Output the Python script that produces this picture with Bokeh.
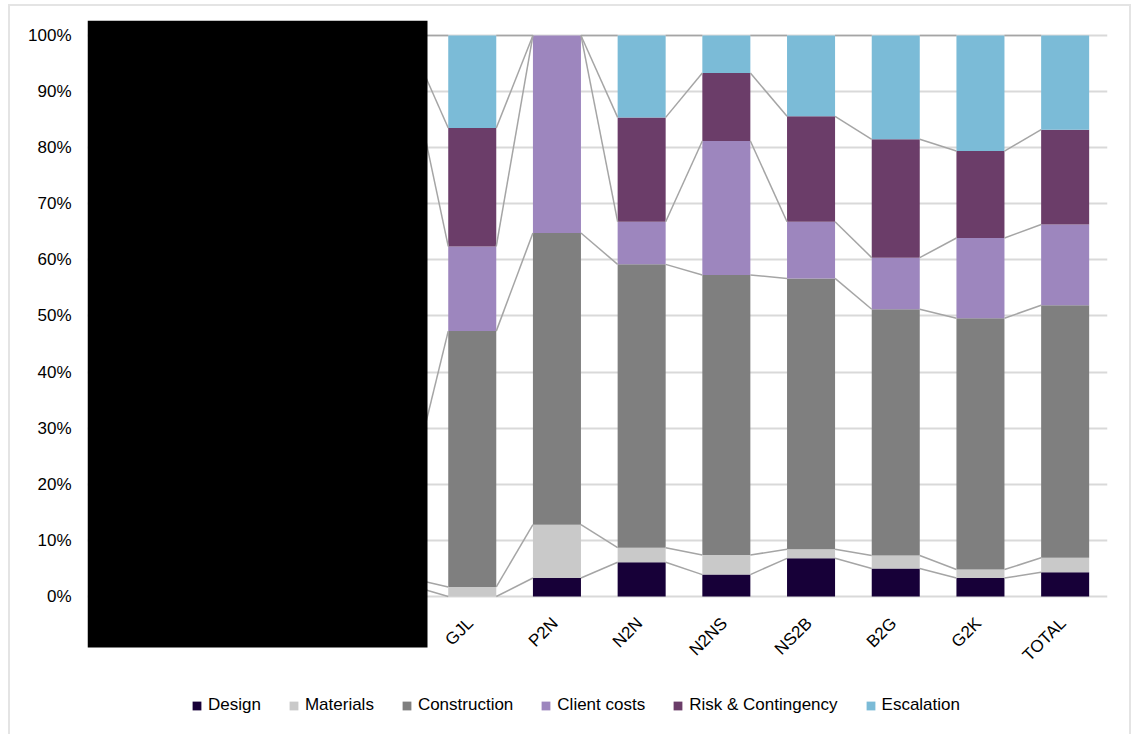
import numpy as np
from bokeh.plotting import figure
from bokeh.core.properties import value
from bokeh.models import (FixedTicker, NumeralTickFormatter, Legend, LegendItem,
                          BoxAnnotation, ColumnDataSource)
from bokeh.embed import file_html
from bokeh.resources import INLINE

# Cost breakdown per section (share of total, %)
series = ["Design", "Materials", "Construction", "Client costs", "Risk & Contingency", "Escalation"]
colors = ["#170038", "#C9C9C9", "#7F7F7F", "#9D86BE", "#6B3D69", "#7BBBD7"]

# The first four columns are blacked out; the fourth one still shows through
# its series lines, so its values are kept as the first entry below.
n_hidden = 4
labels = ["GJL", "P2N", "N2N", "N2NS", "NS2B", "B2G", "G2K", "TOTAL"]

design       = [1.9, 0.0, 3.3, 6.1, 3.9, 6.8, 5.0, 3.3, 4.3]
materials    = [1.3, 1.7, 9.5, 2.6, 3.5, 1.6, 2.3, 1.5, 2.6]
construction = [17.3, 45.6, 52.0, 50.5, 49.9, 48.3, 43.9, 44.8, 45.0]
client_costs = [72.8, 15.1, 35.2, 7.6, 23.9, 10.1, 9.2, 14.3, 14.4]
risk         = [5.0, 21.1, 0.0, 18.6, 12.1, 18.8, 21.1, 15.5, 16.9]
escalation   = [1.7, 16.5, 0.0, 14.6, 6.7, 14.4, 18.5, 20.6, 16.8]

values = [design, materials, construction, client_costs, risk, escalation]
n_cols = n_hidden + len(labels)
xs = list(range(n_hidden - 1, n_cols))
bar_w = 0.567

data = {"x": xs}
for name, vals in zip(series, values):
    data[name] = [v / 100.0 for v in vals]
source = ColumnDataSource(data)

# the frame reaches down to the bottom edge so the blacked-out block, the
# category labels and the legend all live inside it
p = figure(width=1123, height=730, output_backend="svg", toolbar_location=None,
           x_range=(-0.5425, n_cols - 0.5), y_range=(-0.2496, 1.0267),
           min_border_left=77, min_border_right=26, min_border_top=14,
           min_border_bottom=0)
p.margin = (4, 0, 0, 8)
p.styles = {"border-left": "2px solid #E4E4E4", "border-top": "2px solid #E4E4E4",
            "border-right": "2px solid #E4E4E4"}
p.outline_line_color = None
p.background_fill_color = "white"
p.border_fill_color = "white"

renderers = p.vbar_stack(series, x="x", width=bar_w, source=source,
                         color=colors, line_color=None)

# series lines joining the top of each segment between neighbouring bars
cum = np.cumsum(np.array(values, dtype=float) / 100.0, axis=0)
x0, x1, y0, y1 = [], [], [], []
for k in range(len(series)):
    for i in range(len(xs) - 1):
        x0.append(xs[i] + bar_w / 2)
        x1.append(xs[i + 1] - bar_w / 2)
        y0.append(cum[k][i])
        y1.append(cum[k][i + 1])
p.segment(x0=x0, y0=y0, x1=x1, y1=y1, line_color="#A5A5A5", line_width=1.5)

# grid and axes
ticks = [i / 10 for i in range(11)]
p.xgrid.grid_line_color = None
p.ygrid.grid_line_color = "#D9D9D9"
p.ygrid.grid_line_width = 2
p.ygrid.ticker = FixedTicker(ticks=ticks)

p.yaxis.ticker = FixedTicker(ticks=ticks)
p.yaxis.formatter = NumeralTickFormatter(format="0%")
p.yaxis.axis_line_color = None
p.yaxis.major_tick_line_color = None
p.yaxis.minor_tick_line_color = None
p.yaxis.major_tick_out = 0
p.yaxis.major_tick_in = 0
p.yaxis.major_label_standoff = 16
p.yaxis.major_label_text_font = "Liberation Sans"
p.yaxis.major_label_text_font_size = "17px"
p.yaxis.major_label_text_color = "#000000"
p.xaxis.visible = False

# category labels under the bars, rotated
label_x = list(range(n_hidden, n_cols))
p.text(x=label_x, y=[0.0] * len(labels), text=labels, angle=np.pi / 4,
       text_align="right", text_baseline="middle", x_offset=-2, y_offset=24,
       text_font=value("Liberation Sans"), text_font_size="17px",
       text_color="#000000")

# blacked-out block over the first columns
p.add_layout(BoxAnnotation(right=3.4717, top=1.0267, bottom=-0.0909,
                           fill_color="black", fill_alpha=1.0,
                           line_color=None, level="overlay"))

legend = Legend(items=[LegendItem(label=s, renderers=[r]) for s, r in zip(series, renderers)],
                orientation="horizontal", location=(104, 21),
                glyph_width=11, glyph_height=11, label_standoff=6, spacing=27,
                label_text_font="Liberation Sans", label_text_font_size="17px",
                label_text_color="#000000", border_line_color=None,
                background_fill_alpha=0, margin=0, padding=0)
p.add_layout(legend, "center")

open("out.html", "w").write(file_html(p, INLINE))
